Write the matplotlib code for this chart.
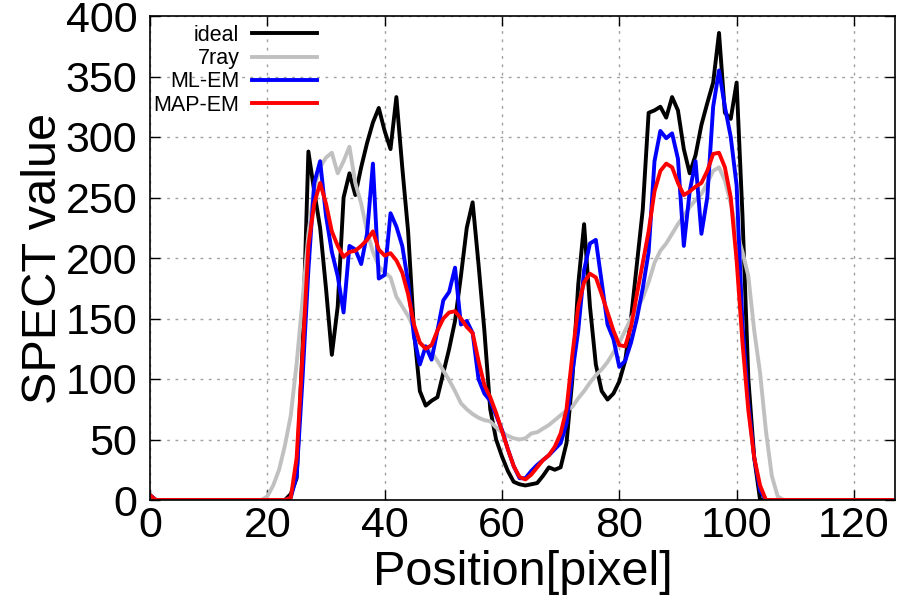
import numpy as np
import matplotlib.pyplot as plt

# プロファイル (位置 0..127)
position = np.arange(128)

ideal = [4] + [0] * 23 + [
    5, 18, 125, 288, 255, 225, 175, 120, 160, 250,          # 24-33
    270, 252, 275, 295, 312, 324, 305, 290, 333, 275,       # 34-43
    222, 140, 90, 78, 82, 85, 105, 125, 148, 185,           # 44-53
    225, 246, 195, 140, 75, 50, 36, 24, 15, 13,             # 54-63
    12, 13, 14, 20, 27, 25, 27, 47, 100, 178,               # 64-73
    228, 160, 112, 90, 83, 88, 98, 115, 150, 195,           # 74-83
    240, 320, 322, 325, 316, 333, 322, 290, 270, 285,       # 84-93
    310, 328, 345, 386, 320, 315, 345, 235, 100, 35,        # 94-103
] + [0] * 24

ray7 = [4] + [0] * 19 + [
    3, 12, 25, 45, 70, 113, 165, 220, 258, 275,             # 20-29
    283, 287, 270, 280, 292, 262, 245, 222, 205, 193,       # 30-39
    188, 184, 168, 160, 152, 142, 130, 126, 122, 115,       # 40-49
    107, 99, 90, 80, 75, 71, 68, 66, 65, 60,                # 50-59
    56, 53, 51, 50, 51, 55, 56, 59, 62, 66,                 # 60-69
    70, 74, 77, 84, 90, 97, 103, 108, 114, 122,             # 70-79
    130, 140, 150, 158, 167, 180, 196, 206, 212, 220,       # 80-89
    228, 235, 242, 248, 253, 262, 272, 275, 264, 245,       # 90-99
    222, 205, 185, 140, 105, 57, 20, 3,                     # 100-107
] + [0] * 20

mlem = [4] + [0] * 23 + [
    2, 20, 100, 190, 262, 280, 235, 205, 185, 155,          # 24-33
    210, 207, 195, 220, 278, 183, 186, 237, 226, 210,       # 34-43
    180, 135, 112, 127, 116, 140, 165, 172, 192, 145,       # 44-53
    148, 138, 100, 88, 82, 70, 58, 42, 28, 18,              # 54-63
    18, 24, 29, 33, 37, 42, 47, 63, 105, 140,               # 64-73
    190, 212, 215, 180, 145, 133, 110, 115, 130, 150,       # 74-83
    175, 205, 280, 305, 299, 303, 282, 210, 255, 280,       # 84-93
    220, 250, 325, 355, 325, 300, 260, 145, 80, 35,         # 94-103
    8,
] + [0] * 23

mapem = [4] + [0] * 23 + [
    2, 35, 120, 210, 245, 262, 245, 222, 210, 201,          # 24-33
    205, 206, 210, 215, 222, 207, 202, 204, 198, 188,       # 34-43
    170, 145, 130, 125, 128, 140, 150, 155, 156, 150,       # 44-53
    143, 138, 115, 95, 85, 72, 57, 42, 28, 19,              # 54-63
    17, 21, 27, 33, 37, 44, 55, 75, 120, 160,               # 64-73
    180, 187, 184, 170, 155, 140, 128, 127, 143, 170,       # 74-83
    196, 222, 255, 272, 278, 275, 262, 252, 255, 259,       # 84-93
    262, 272, 286, 287, 275, 250, 198, 130, 74, 35,         # 94-103
    12,
] + [0] * 23

series = [('ideal', ideal, 'black'),
          ('7ray', ray7, '#c0c0c0'),
          ('ML-EM', mlem, '#0000ff'),
          ('MAP-EM', mapem, '#ff0000')]

plt.rcParams['font.family'] = ['Liberation Sans', 'DejaVu Sans']

fig = plt.figure(figsize=(9.13, 6.04), dpi=100)
ax = fig.add_axes([150 / 913, 104 / 604, 745 / 913, 484 / 604])

for name, vals, col in series:
    ax.plot(position, vals, color=col, lw=2.8, label=name)

ax.set_xlim(0, 127)
ax.set_ylim(0, 400)
ax.set_xticks(np.arange(0, 121, 20))
ax.set_yticks(np.arange(0, 401, 50))
ax.tick_params(direction='in', top=True, right=True, length=7, width=1,
               labelsize=31)
ax.tick_params(axis='x', pad=4)
ax.tick_params(axis='y', pad=9)
ax.grid(True, color='#a0a0a0', linestyle=(0, (2, 4)), linewidth=1)
for s in ax.spines.values():
    s.set_linewidth(1.2)

ax.set_xlabel('Position[pixel]', fontsize=35, labelpad=3)
ax.set_ylabel('SPECT value', fontsize=35, labelpad=0)

ax.legend(loc='upper right', bbox_to_anchor=(0.224, 0.982), frameon=False,
          markerfirst=False, fontsize=15.5, handlelength=3.0, handletextpad=0.6,
          labelspacing=0.11, borderpad=0, borderaxespad=0)

plt.savefig('out.png', dpi=100)
